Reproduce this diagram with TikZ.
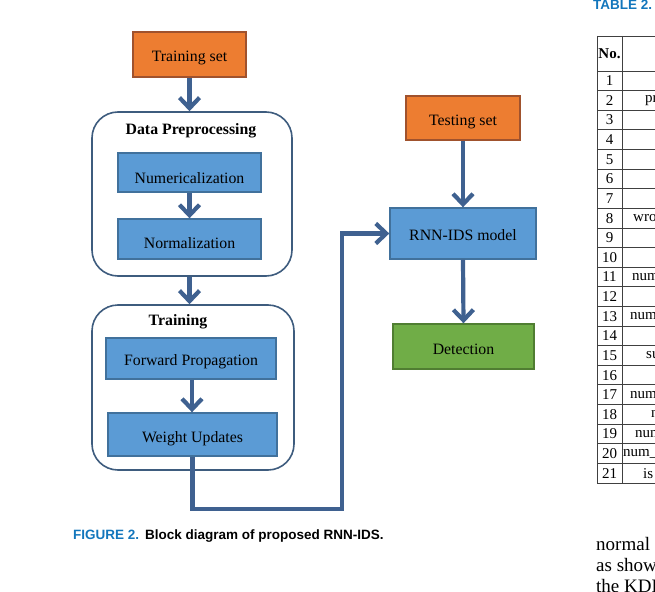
\documentclass[tikz,border=0pt]{standalone}
\usepackage{fontspec}
\setmainfont{Liberation Serif}
\newfontfamily\capfont{Liberation Sans}
\usetikzlibrary{arrows.meta}
\definecolor{boxblue}{HTML}{5B9BD5}
\definecolor{boxblueb}{HTML}{41719C}
\definecolor{boxorange}{HTML}{ED7D31}
\definecolor{boxorangeb}{HTML}{A0522D}
\definecolor{boxgreen}{HTML}{70AD47}
\definecolor{boxgreenb}{HTML}{507E32}
\definecolor{arrowc}{HTML}{3F6190}
\definecolor{contb}{HTML}{3E5C7E}
\definecolor{capblue}{HTML}{1276BC}
\begin{document}
\begin{tikzpicture}[x=1pt,y=-1pt,
  blk/.style={draw=boxblueb, fill=boxblue, line width=1.4pt, inner sep=0pt,
    text height=15pt, text depth=0pt,
    font=\fontsize{15.8}{18}\selectfont},
  orangeblk/.style={blk, draw=boxorangeb, fill=boxorange},
  greenblk/.style={blk, draw=boxgreenb, fill=boxgreen},
  cont/.style={draw=contb, line width=1.6pt, rounded corners=26pt, inner sep=0pt},
  ttl/.style={font=\bfseries\fontsize{15.8}{18}\selectfont, inner sep=0pt},
  flow/.style={draw=arrowc, line width=4.2pt, line join=miter,
    -{Straight Barb[length=10.5pt,width=20pt]}},
  tline/.style={draw=black!75, line width=0.9pt},
  tnum/.style={font=\fontsize{15}{17}\selectfont, inner sep=0pt},
  body/.style={font=\fontsize{19}{21}\selectfont, inner sep=0pt, anchor=base west},
  capt/.style={font=\capfont\bfseries\fontsize{13.5}{15}\selectfont, inner sep=0pt, anchor=base west}
]
\useasboundingbox (0,0) rectangle (655,591);
\clip (0,0) rectangle (655,591);

% containers
\node[cont, minimum width=200pt, minimum height=164pt] (dp) at (192,194) {};
\node[cont, minimum width=202pt, minimum height=165pt] (tr) at (193,387.5) {};
\node[ttl] (dpt) at (191,130.5) {Data Preprocessing};
\node[ttl] (trt) at (178,321.5) {Training};

% blocks
\node[orangeblk, minimum width=113pt, minimum height=45pt] (train) at (189.5,54.5) {Training set};
\node[blk, minimum width=143pt, minimum height=39pt, text height=21.6pt] (num) at (189.5,172.5) {Numericalization};
\node[blk, minimum width=143pt, minimum height=40pt, text height=18.6pt] (norm) at (189.5,239) {Normalization};
\node[blk, minimum width=170pt, minimum height=41pt, text height=13pt] (fp) at (191,358.5) {Forward Propagation};
\node[blk, minimum width=169pt, minimum height=43pt, text height=16.4pt] (wu) at (192.5,434.5) {Weight Updates};
\node[orangeblk, minimum width=114pt, minimum height=44pt] (test) at (463,118) {Testing set};
\node[blk, minimum width=146pt, minimum height=51pt, text height=13pt] (rnn) at (463,233.5) {RNN-IDS model};
\node[greenblk, minimum width=141pt, minimum height=45pt] (det) at (463.5,346.5) {Detection};

% connectors
\draw[flow] (train.south) -- (train.south |- dp.north);
\draw[flow] (num.south) -- (norm.north);
\draw[flow] (train.south |- dp.south) -- (train.south |- tr.north);
\draw[flow] ([xshift=1pt]fp.south) -- ([xshift=1pt]fp.south |- wu.north);
\draw[flow] (test.south) -- (rnn.north);
\draw[flow] (rnn.south) -- (det.north);
\coordinate (bend) at (342,509);
\draw[flow] (wu.south) |- (bend) |- (rnn.west);

% caption
\node[capt, text=capblue] (figlab) at (73,539) {FIGURE 2.};
\node[capt] (figcap) at (145,539) {Block diagram of proposed RNN-IDS.};

% table fragment
\node[capt, text=capblue] (tablab) at (593,9.5) {TABLE 2.};
\draw[tline] (597,36) -- (597,483);
\draw[tline] (622,36) -- (622,483);
\draw[tline] (597,36) -- (660,36);
\draw[tline] (597,71) -- (660,71);
\foreach \i in {1,...,21}{
  \draw[tline] (597,{71+\i*19.62}) -- (660,{71+\i*19.62});
  \node[tnum] (r\i) at (609.5,{71+(\i-0.5)*19.62}) {\i};
}
\node[tnum, font=\bfseries\fontsize{15}{17}\selectfont] (hno) at (609.5,53.5) {No.};
\foreach \r/\t/\x in {2/pr/645, 8/wro/633, 11/num/632, 13/num/630, 15/su/646, 17/num/630, 18/n/651, 19/num/635, 20/num\_/623, 21/is/643}{
  \node[tnum, anchor=west] (f\r) at (\x,{71+(\r-0.5)*19.62}) {\t};
}

% body text fragment
\node[body] (l1) at (596,550) {normal};
\node[body] (l2) at (596,571) {as show};
\node[body] (l3) at (596,592) {the KDD};
\end{tikzpicture}
\end{document}
